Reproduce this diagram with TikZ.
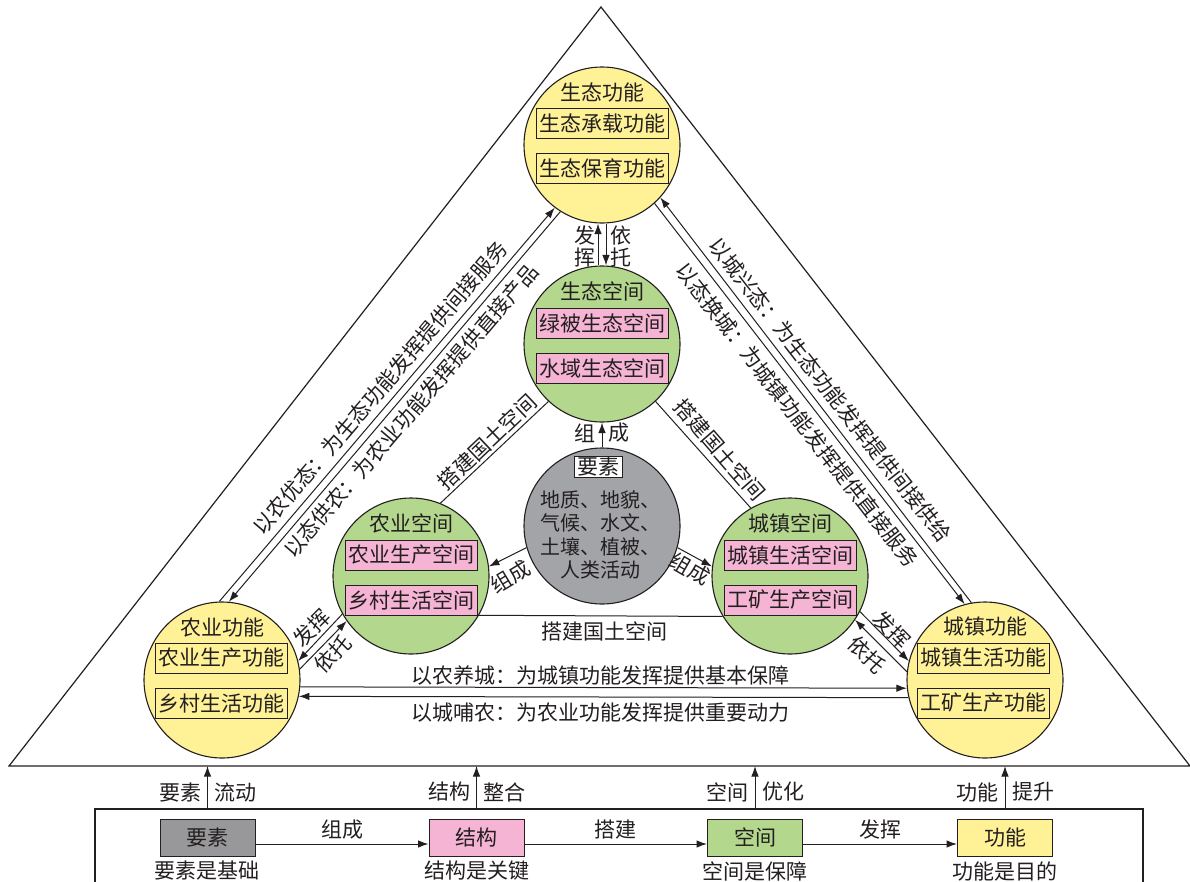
\documentclass[tikz,border=0pt]{standalone}
\usepackage{fontspec}
\setmainfont{Noto Sans CJK SC}
\usetikzlibrary{arrows.meta,calc}
\definecolor{yel}{RGB}{255,242,150}
\definecolor{grn}{RGB}{180,215,142}
\definecolor{pnk}{RGB}{245,180,212}
\definecolor{gry}{RGB}{163,164,168}
\definecolor{gryb}{RGB}{152,152,154}
\definecolor{ink}{RGB}{35,31,32}
\begin{document}
\begin{tikzpicture}[x=1pt,y=-1pt,
  font=\fontsize{21}{24}\selectfont,
  every node/.style={text=ink},
  fcirc/.style={circle,draw=ink,line width=1.1pt,fill=yel,minimum size=156pt,inner sep=0pt},
  scirc/.style={fcirc,fill=grn},
  ycirc/.style={fcirc,fill=gry},
  fbox/.style={draw=ink,line width=1pt,fill=yel,minimum width=132pt,minimum height=30pt,inner sep=0pt},
  sbox/.style={fbox,fill=pnk},
  bbox/.style={draw=ink,line width=1pt,minimum width=95pt,minimum height=37pt,inner sep=0pt},
  lbl/.style={inner sep=0pt},
  conn/.style={line width=1pt,draw=ink},
  arr/.style={conn,-{Latex[length=10.5pt,width=7.5pt]}}]
\useasboundingbox (0,0) rectangle (1190,881);
\fill[white] (0,0) rectangle (1190,881);
\clip (0,0) rectangle (1190,881);

% big triangle
\coordinate (TA) at (601,7);
\coordinate (TL) at (9,766);
\coordinate (TR) at (1190,766);
\draw[conn,line width=1.2pt] (TA) -- (TL) -- (TR) -- cycle;

% function / space / element circles
\node[fcirc] (FE) at (602,145) {};
\node[lbl] (FEt) at ($(FE)+(0,-53)$) {生态功能};
\node[fbox] (FE1) at ($(FE)+(0,-22)$) {生态承载功能};
\node[fbox] (FE2) at ($(FE)+(0,23)$) {生态保育功能};

\node[scirc] (ES) at (602,344) {};
\node[lbl] (ESt) at ($(ES)+(0,-53)$) {生态空间};
\node[sbox] (ES1) at ($(ES)+(0,-21)$) {绿被生态空间};
\node[sbox] (ES2) at ($(ES)+(0,24)$) {水域生态空间};

\node[ycirc] (YS) at (602,526) {};
\node[draw=ink,fill=white,line width=1pt,inner xsep=3pt,inner ysep=1pt] (YSl) at (598,467) {要素};
\node[lbl,align=center,font=\fontsize{20}{23.5}\selectfont] (YSt) at (600,535) {地质、地貌、\\气候、水文、\\土壤、植被、\\人类活动};

\node[scirc] (NA) at (411,576) {};
\node[lbl] (NAt) at ($(NA)+(0,-53)$) {农业空间};
\node[sbox] (NA1) at ($(NA)+(0,-21)$) {农业生产空间};
\node[sbox] (NA2) at ($(NA)+(0,24)$) {乡村生活空间};

\node[scirc] (CS) at (790,576) {};
\node[lbl] (CSt) at ($(CS)+(0,-53)$) {城镇空间};
\node[sbox] (CS1) at ($(CS)+(0,-21)$) {城镇生活空间};
\node[sbox] (CS2) at ($(CS)+(0,24)$) {工矿生产空间};

\node[fcirc] (FA) at (222,680) {};
\node[lbl] (FAt) at ($(FA)+(0,-53)$) {农业功能};
\node[fbox] (FA1) at ($(FA)+(-1,-22)$) {农业生产功能};
\node[fbox] (FA2) at ($(FA)+(-1,23)$) {乡村生活功能};

\node[fcirc] (FF) at (985,680) {};
\node[lbl] (FFt) at ($(FF)+(0,-53)$) {城镇功能};
\node[fbox] (FF1) at ($(FF)+(-2,-22)$) {城镇生活功能};
\node[fbox] (FF2) at ($(FF)+(-2,23)$) {工矿生产功能};

% top: fa hui / yi tuo
\draw[arr] ([xshift=-4pt]ES.north) -- ([xshift=-4pt]FE.south);
\draw[arr] ([xshift=4pt]FE.south) -- ([xshift=4pt]ES.north);
\node[lbl,align=center,font=\fontsize{21}{22}\selectfont] (tFH) at (585,246) {发\\挥};
\node[lbl,align=center,font=\fontsize{21}{22}\selectfont] (tYT) at (621,246) {依\\托};

% zu cheng
\draw[arr] (YS.north) -- (ES.south);
\node[lbl] (zc1) at (585,433) {组};
\node[lbl] (zc2) at (619,433) {成};
\draw[arr] (YS.196) -- (NA.7);
\node[lbl,rotate=31] (zcL) at (510,577) {组成};
\draw[arr] (YS.-16) -- (CS.173);
\node[lbl,rotate=-30] (zcR) at (690,569) {组成};

% da jian guo tu kong jian
\draw[conn] (NA.68) -- (ES.-133.5);
\node[lbl,rotate=43.5] (djL) at (487,442) {搭建国土空间};
\draw[conn] (ES.-47) -- (CS.120);
\node[lbl,rotate=-49] (djR) at (720,450) {搭建国土空间};
\draw[conn] (NA.-30.85) -- (CS.-149.15);
\node[lbl] (djB) at (604,631) {搭建国土空间};

% space -> function
\draw[arr] (NA.209.8) -- (FA.14.5);
\draw[arr] (FA.8.3) -- (NA.215.2);
\node[lbl,rotate=45] (fhL) at (312,628) {发挥};
\node[lbl,rotate=45] (ytL) at (333,654) {依托};
\draw[arr] (CS.-27.6) -- (FF.166.7);
\draw[arr] (FF.174.4) -- (CS.-34);
\node[lbl,rotate=-45] (fhR) at (892,630) {发挥};
\node[lbl,rotate=-45] (ytR) at (867,655) {依托};

% long diagonals
\draw[arr] (FA.92.9) -- (FE.-127.6);
\draw[arr] (FE.-122.6) -- (FA.85);
\node[lbl,rotate=49.5] (dL1) at (380,388) {以农优态：为生态功能发挥提供间接服务};
\node[lbl,rotate=49.5] (dL2) at (411,411) {以态供农：为农业功能发挥提供直接产品};
\draw[arr] (FF.100.4) -- (FE.-42.9);
\draw[arr] (FE.-48.1) -- (FF.105.7);
\node[lbl,rotate=-52] (dR1) at (830,390) {以城兴态：为生态功能发挥提供间接供给};
\node[lbl,rotate=-52] (dR2) at (797,415) {以态换城：为城镇功能发挥提供直接服务};

% horizontal
\draw[arr] (FA.-5.9) -- (FF.-174.1);
\draw[arr] (FF.-167.4) -- (FA.-12.6);
\node[lbl] (hT) at (600,675) {以农养城：为城镇功能发挥提供基本保障};
\node[lbl] (hB) at (600,713) {以城哺农：为农业功能发挥提供重要动力};

% bottom frame
\draw[conn,line width=1.2pt] (95,950) -- (95,809) -- (1143,809) -- (1143,950);
\node[bbox,fill=gryb] (BY) at (207.5,837.5) {要素};
\node[bbox,fill=pnk] (BJ) at (476.5,837.5) {结构};
\node[bbox,fill=grn] (BK) at (755,837.5) {空间};
\node[bbox,fill=yel] (BG) at (1005,837.5) {功能};
\draw[arr] ([yshift=-6.5pt]BY.east) -- ([yshift=-6.5pt]BJ.west);
\draw[arr] ([yshift=-6.5pt]BJ.east) -- ([yshift=-6.5pt]BK.west);
\draw[arr] ([yshift=-6.5pt]BK.east) -- ([yshift=-6.5pt]BG.west);
\node[lbl] (bl1) at ($(BY.east)!0.5!(BJ.west)+(0,-8)$) {组成};
\node[lbl] (bl2) at ($(BJ.east)!0.5!(BK.west)+(0,-8)$) {搭建};
\node[lbl] (bl3) at ($(BK.east)!0.5!(BG.west)+(0,-8)$) {发挥};
\node[lbl] (bs1) at (207,871) {要素是基础};
\node[lbl] (bs2) at (476.5,871) {结构是关键};
\node[lbl] (bs3) at (755,871) {空间是保障};
\node[lbl] (bs4) at (1005,871) {功能是目的};

% upward arrows to triangle base
\foreach \n/\x/\a/\b in {1/207.5/要素/流动, 2/476.5/结构/整合, 3/755/空间/优化, 4/1005/功能/提升}{
  \coordinate (s\n) at (\x,809);
  \coordinate (e\n) at (\x,766);
  \draw[arr] (s\n) -- (e\n);
  \node[lbl,anchor=east] (ua\n) at ($(s\n)+(-6,-17)$) {\a};
  \node[lbl,anchor=west] (ub\n) at ($(s\n)+(7,-17)$) {\b};
}
\end{tikzpicture}
\end{document}
